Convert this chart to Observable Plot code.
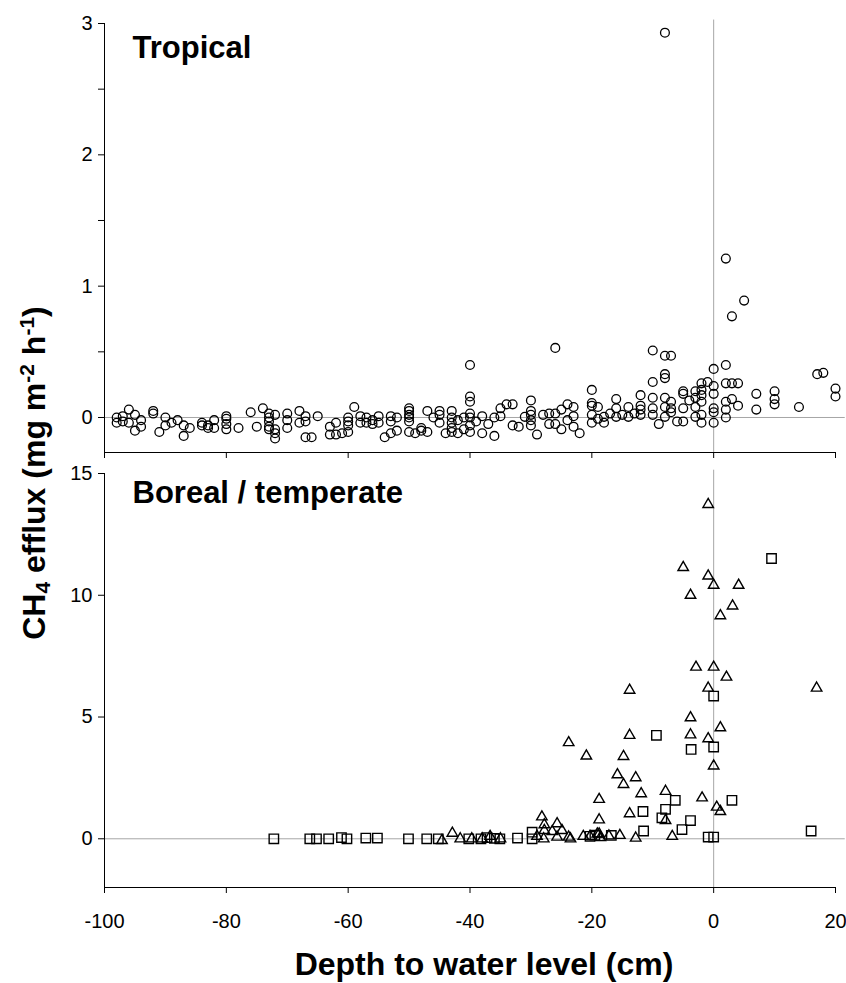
<!DOCTYPE html>
<html><head><meta charset="utf-8">
<script src="https://cdn.jsdelivr.net/npm/d3@7"></script>
<script src="https://cdn.jsdelivr.net/npm/@observablehq/plot@0.6"></script>
<style>
html,body{margin:0;padding:0;background:#fff;}
#wrap{position:relative;width:846px;height:983px;font-family:"Liberation Sans",Arial,sans-serif;}
#wrap > svg{position:absolute;left:0;}
</style></head><body><div id="wrap"></div>
<script>
const xTicks = [-100, -80, -60, -40, -20, 0, 20];
const tropicalTicks = [0, 0.5, 1, 1.5, 2, 2.5, 3];
const borealTicks = [0, 5, 10, 15];
const panelTitles = ["Tropical", "Boreal / temperate"];
const xTitle = "Depth to water level (cm)";

// Tropical: [depth to water level (cm), CH4 efflux]
const tropical = [
[-98,0],[-98,-0.04],[-97,0.01],[-97,-0.03],[-96,0.06],[-96,-0.04],[-95,0.02],[-95,-0.10],[-94,-0.02],[-94,-0.07],
[-92,0.05],[-92,0.03],[-91,-0.11],[-90,0],[-90,-0.06],[-89,-0.04],[-88,-0.02],[-87,-0.06],[-87,-0.14],[-86,-0.08],
[-84,-0.04],[-84,-0.06],[-83,-0.06],[-83,-0.08],[-82,-0.02],[-82,-0.08],[-80,0.01],[-80,-0.01],[-80,-0.05],[-80,-0.09],
[-78,-0.08],[-76,0.04],[-75,-0.07],[-74,0.07],[-73,0.03],[-73,0],[-73,-0.03],[-73,-0.07],[-73,-0.09],[-72,0.02],
[-72,-0.09],[-72,-0.12],[-72,-0.16],[-70,0.03],[-70,-0.02],[-70,-0.08],[-68,0.05],[-68,-0.04],[-67,0.01],[-67,-0.03],
[-67,-0.15],[-66,-0.15],[-65,0.01],[-63,-0.07],[-63,-0.13],[-62,-0.04],[-62,-0.13],[-61,-0.12],[-60,-0.11],[-60,0],
[-60,-0.03],[-60,-0.06],[-59,0.08],[-58,0.01],[-58,-0.04],[-57,0],[-57,-0.04],[-56,-0.02],[-56,-0.05],[-55,0.01],
[-55,-0.04],[-54,-0.15],[-53,0.01],[-53,-0.03],[-53,-0.12],[-52,-0.10],[-52,0],[-50,0.07],[-50,0.05],[-50,0.02],
[-50,0],[-50,-0.03],[-50,-0.11],[-49,-0.12],[-48,-0.08],[-48,-0.10],[-47,0.05],[-47,-0.11],[-46,0],[-45,0.05],
[-45,0.02],[-45,-0.04],[-44,-0.12],[-43,0.05],[-43,0],[-43,-0.04],[-43,-0.08],[-43,-0.11],[-42,-0.02],[-42,-0.12],
[-41,0],[-41,-0.09],[-40,0.40],[-40,0.16],[-40,0.12],[-40,0.03],[-40,0],[-40,-0.06],[-40,-0.11],[-39,-0.03],
[-38,0.01],[-38,-0.12],[-37,-0.05],[-36,0],[-36,-0.14],[-35,0.07],[-35,0.01],[-34,0.10],[-33,0.10],[-33,-0.06],
[-32,-0.07],[-31,0.005],[-30,0.13],[-30,0.05],[-30,0.02],[-30,-0.02],[-30,-0.06],[-29,-0.13],[-28,0.02],[-27,0.03],
[-27,-0.05],[-26,0.53],[-26,0.03],[-26,-0.05],[-25,0.06],[-25,-0.09],[-24,0.10],[-24,-0.02],[-23,0.08],[-23,0.01],
[-23,-0.07],[-22,-0.12],[-20,0.21],[-20,0.11],[-20,0.09],[-20,0.02],[-20,-0.04],[-19,0.08],[-19,-0.01],[-18,0.005],
[-18,-0.04],[-17,0.03],[-16,0.14],[-16,0.07],[-16,0.005],[-15,0.02],[-14,0.08],[-14,0.005],[-13,0.03],[-12,0.17],
[-12,0.09],[-12,0.06],[-12,0.02],[-10,0.51],[-10,0.27],[-10,0.15],[-10,0.07],[-10,0.02],[-9,-0.05],[-8,2.93],
[-8,0.47],[-8,0.33],[-8,0.30],[-8,0.15],[-8,0.08],[-8,0.005],[-7,0.47],[-7,0.12],[-7,0.07],[-7,0.04],
[-6,-0.03],[-5,0.20],[-5,0.18],[-5,0.07],[-5,-0.03],[-4,0.13],[-3,0.20],[-3,0.15],[-3,0.08],[-3,0.005],
[-2,0.26],[-2,0.21],[-2,0.17],[-2,0.12],[-2,0.02],[-2,-0.04],[-1,0.27],[0,0.37],[0,0.24],[0,0.18],
[0,0.07],[0,0.04],[0,-0.04],[2,1.21],[2,0.40],[2,0.26],[2,0.12],[2,0.06],[2,0],[3,0.77],
[3,0.26],[3,0.14],[4,0.26],[4,0.09],[5,0.89],[7,0.18],[7,0.06],[10,0.20],[10,0.14],[10,0.10],
[14,0.08],[17,0.33],[18,0.34],[20,0.22],[20,0.16]
];

// Boreal / temperate, triangles
const triangles = [
[-0.9,13.73],[-5,11.14],[-0.9,10.79],[0,10.41],[4.1,10.41],[-3.8,10.0],[3.1,9.56],[1.1,9.16],
[-2.9,7.05],[0,7.05],[2.1,6.64],[-0.9,6.19],[16.9,6.19],[-13.8,6.1],[-3.8,4.97],[1.1,4.56],
[-13.8,4.25],[-3.8,4.27],[-0.9,4.11],[-23.8,3.95],[-20.9,3.4],[-14.8,3.38],[0,2.99],[-15.8,2.63],
[-12.8,2.51],[-14.8,2.23],[-11.9,1.85],[-7.9,1.95],[-18.8,1.62],[-1.9,1.68],[0.5,1.3],[1.1,1.12],
[-13.8,1.03],[-18.8,0.78],[-7.9,0.75],[-28.2,0.9],[-27.8,0.58],[-25.7,0.62],[-27.8,0.34],[-24.9,0.34],
[-25.7,0.07],[-23.8,0.07],[-23.5,0],[-21.4,0.1],[-18.8,0.2],[-18.6,0.05],[-17.2,0.12],[-15.4,0.14],
[-12.8,0.03],[-6.8,0.1],[-42.9,0.23],[-44.6,-0.07],[-41.6,0],[-39.7,0],[-36.7,0.1],[-35,0],[-38,0],
[-27.9,0],[-29,0.1],[-26.5,0.3],[-20.3,0.1],[-19.1,0.2]
];

// Boreal / temperate, squares
const squares = [
[-72.2,0],[-66.3,0],[-65.2,0],[-63.2,0],[-61.1,0.05],[-60.2,0],[-57.1,0.03],[-55.2,0.03],[-50.1,0],[-47.1,0],
[-45.2,0],[-40.2,0],[-38.2,0],[-37.2,0.05],[-36,0.02],[-35.1,0],[-32.2,0.03],[-29.8,0.27],[-29.8,0],[-20.3,0.1],
[-19.5,0.15],[-16.8,0.14],[-11.6,1.12],[-11.5,0.32],[-9.4,4.25],[-8.5,0.86],[-7.9,1.21],[-6.3,1.58],[-5.2,0.38],[-3.8,0.75],
[-3.7,3.67],[-0.9,0.07],[0,0.07],[0,3.77],[0,5.86],[3.0,1.58],[9.5,11.51],[16,0.32]
];

const FONT = "Liberation Sans, Arial, Helvetica, sans-serif";
const GRID = "#a6a6a6";
const wrap = document.getElementById("wrap");

function panel({yDomain, yTicks, yFmt, height, marginTop, marginBottom, showX, title, titleDy, dotMarks}) {
  const [y0, y1] = yDomain;
  return Plot.plot({
    width: 846, height, marginLeft: 104, marginRight: 11, marginTop, marginBottom,
    x: {domain: [-100, 20]},
    y: {domain: yDomain},
    style: {fontFamily: FONT, fontSize: "20px", color: "#000", background: "transparent", overflow: "visible"},
    marks: [
      Plot.ruleY([0], {x1: -100, x2: 21.6, stroke: GRID, strokeWidth: 1}),
      Plot.ruleX([0], {y1: y0, y2: y1 + (y1 - y0) * 0.008, stroke: GRID, strokeWidth: 1}),
      Plot.ruleX([-100], {y1: y0, y2: y1, stroke: "#000", strokeWidth: 1}),
      Plot.ruleY([y0], {x1: -100, x2: 20, stroke: "#000", strokeWidth: 1}),
      Plot.axisX({ticks: xTicks, tickSize: 6, tickPadding: 20, label: null,
        tickFormat: showX ? (d => String(d)) : (() => "")}),
      Plot.axisY({ticks: yTicks, tickSize: 6, tickPadding: 6, label: null, tickFormat: yFmt}),
      ...dotMarks,
      Plot.text([title], {text: d => d, frameAnchor: "top-left", textAnchor: "start", lineAnchor: "top",
        dx: 28, dy: titleDy, fontSize: 31, fontWeight: "bold", fill: "#000"})
    ]
  });
}

const topPlot = panel({
  yDomain: [-0.2665, 3], yTicks: tropicalTicks,
  yFmt: d => Number.isInteger(d) ? String(d) : "",
  height: 462, marginTop: 23, marginBottom: 10, showX: false,
  title: panelTitles[0], titleDy: 12,
  dotMarks: [
    Plot.dot(tropical, {x: d => d[0], y: d => d[1], r: 4.4, stroke: "#000", strokeWidth: 1.3, fill: "none"})
  ]
});
topPlot.style.top = "0px";
wrap.appendChild(topPlot);

const botPlot = panel({
  yDomain: [-2, 15], yTicks: borealTicks,
  yFmt: d => String(d),
  height: 521, marginTop: 11, marginBottom: 96, showX: true,
  title: panelTitles[1], titleDy: 7,
  dotMarks: [
    Plot.dot(squares, {x: d => d[0], y: d => d[1], symbol: "square", r: 5.3, stroke: "#000", strokeWidth: 1.4, fill: "none"}),
    Plot.dot(triangles, {x: d => d[0], y: d => d[1], symbol: "triangle", r: 3.9, stroke: "#000", strokeWidth: 1.4, fill: "none"})
  ]
});
botPlot.style.top = "462px";
wrap.appendChild(botPlot);

// Overlay for the shared axis titles
const ov = d3.select(wrap).append("svg")
  .attr("width", 846).attr("height", 983)
  .style("top", "0px").style("pointer-events", "none")
  .attr("font-family", FONT).attr("font-weight", "bold").attr("fill", "#000");

ov.append("text").attr("x", 484).attr("y", 975).attr("text-anchor", "middle")
  .attr("font-size", 32).text(xTitle);

const yt = ov.append("text").attr("transform", "translate(45,473) rotate(-90)")
  .attr("text-anchor", "middle").attr("font-size", 32);
yt.append("tspan").text("CH");
yt.append("tspan").attr("font-size", 21).attr("dy", 5).text("4");
yt.append("tspan").attr("dy", -5).text(" efflux (mg m");
yt.append("tspan").attr("font-size", 21).attr("dy", -11).text("-2");
yt.append("tspan").attr("dy", 11).text(" h");
yt.append("tspan").attr("font-size", 21).attr("dy", -11).text("-1");
yt.append("tspan").attr("dy", 11).text(")");
</script></body></html>
